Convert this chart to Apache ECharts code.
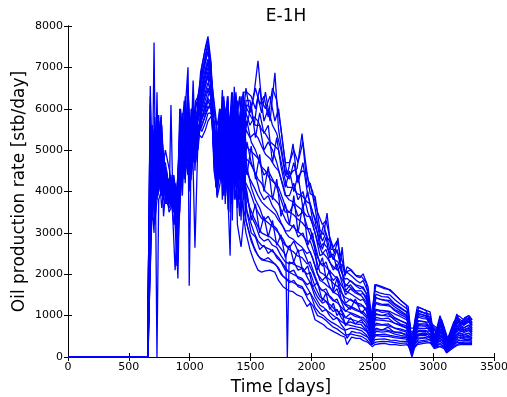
<!DOCTYPE html>
<html><head><meta charset="utf-8">
<script src="https://cdn.jsdelivr.net/npm/echarts@6/dist/echarts.min.js"></script>
<style>html,body{margin:0;padding:0;background:#fff}#c{width:507px;height:397px}</style>
</head><body><div id="c"></div>
<script>
const days = [0,655,664,676,692,707,720,731,745,765,785,810,830,846,862,880,903,918,940,963,986,996,1012,1028,1043,1068,1100,1130,1150,1172,1200,1225,1250,1268,1292,1315,1332,1350,1366,1392,1422,1442,1462,1495,1530,1561,1590,1622,1660,1700,1730,1767,1790,1802,1816,1849,1882,1923,1964,1990,2030,2070,2100,2128,2160,2190,2218,2240,2252,2275,2292,2330,2370,2400,2424,2465,2500,2520,2560,2600,2645,2690,2730,2795,2826,2850,2870,2920,2975,3010,3056,3090,3110,3155,3195,3225,3260,3295,3320];

const runA = [0,0,3000,2950,4400,4100,4700,6400,4200,5800,4300,4100,3700,4000,4200,3900,3600,5000,4400,5800,4900,4300,5200,6680,5400,5900,5760,6050,6260,6150,5200,3900,5100,6450,4500,5600,4800,6000,4700,5400,4100,3400,3000,2600,2300,2100,2050,2080,2100,2050,1850,1700,1650,1620,1600,1580,1500,1450,1220,1300,900,830,780,700,650,600,560,520,500,480,300,480,450,450,400,350,250,300,320,330,300,300,280,300,0,250,300,330,350,200,250,200,100,200,280,300,300,300,300];
const runB = [0,0,2950,6550,3900,7600,3900,4300,5850,4600,4900,3900,4300,4400,3600,4200,3800,3900,5600,4500,5800,4700,4500,5500,6000,5200,6380,6770,7000,6750,4500,4000,4500,5600,6000,4200,5400,4500,6530,5000,5700,4600,3300,2950,2650,2450,2350,2330,2300,2250,2150,1950,1900,1880,1850,1800,1750,1700,1500,1550,1200,1050,1000,920,850,800,750,700,680,640,450,620,590,580,540,470,300,420,430,440,410,400,380,380,50,310,380,400,420,220,320,250,120,240,350,350,360,360,350];
const runC = [0,0,0,4200,5600,3600,4200,5000,4000,4400,3800,4500,4000,3700,4000,3500,2300,5600,4600,5400,4600,4100,5700,4900,5200,5600,5450,5680,5890,5900,5700,5000,5800,4200,4900,6300,4300,5500,4100,6200,4600,5100,3600,3300,3000,2800,2700,2650,2600,2500,2400,2250,2150,2100,2050,2000,1950,1900,1750,1800,1450,1250,1200,1120,1050,980,930,870,850,800,780,760,730,710,680,590,350,540,540,550,520,500,480,460,100,370,460,470,490,240,390,300,140,280,420,400,420,430,400];
const runD = [0,0,3050,3100,4100,4900,3700,0,3800,4000,4500,3700,4200,3900,4400,3700,4100,4500,5900,4800,5500,5000,4800,6000,4800,6300,6690,7140,7380,7000,4800,4100,4800,6100,3900,5000,5800,4100,6100,4500,6300,5600,3900,3600,3350,3150,3000,2950,2900,2800,2700,2550,2450,0,2300,2250,2200,2150,2000,2050,1700,1450,1400,1320,1250,1150,1100,1040,1020,960,940,910,870,840,820,710,400,660,650,660,630,600,580,540,130,430,540,540,560,260,460,350,160,320,490,450,480,500,450];
const runE = [0,0,0,5600,3300,3800,5200,4100,5400,5000,3400,4300,3900,4200,3300,2100,3500,6000,4100,6300,5200,4500,6000,4700,5700,5000,6070,6410,6630,6450,5100,3850,4200,5000,5700,3800,2450,5900,4400,5800,3900,4200,4200,4000,3700,3500,3350,3300,3200,3100,3000,2850,2700,2650,2600,2550,2450,2400,2250,2300,1950,1650,1600,1520,1450,1350,1300,1220,1200,1120,1100,1060,1010,970,960,830,450,780,770,770,740,700,680,620,160,490,620,610,630,280,530,400,180,360,560,500,540,570,500];
const runF = [0,0,1500,4800,5200,4300,3500,5800,4500,4200,4700,4000,3500,3600,4100,3300,4000,3700,5200,4300,6000,4200,4300,5800,4500,6100,7000,7500,7750,7200,4600,4300,5500,3800,5200,6000,4600,6400,5200,3600,5300,6400,4500,4300,4100,3900,3750,3650,3550,3450,3300,3150,3000,2950,2900,2850,2750,2650,2500,2550,2200,1850,1800,1720,1650,1550,1500,1400,1380,1280,1260,1210,1150,1100,1100,950,500,900,890,880,860,810,780,700,180,550,700,690,700,300,600,450,200,400,630,550,600,640,550];
const runG = [0,0,0,3600,4700,5500,4400,3900,5100,5850,4100,4400,4100,4300,3800,4100,3700,5300,3900,6000,7000,4800,5400,5100,5900,5400,5300,5500,5700,5800,5900,5600,6000,5300,4100,4700,5600,3300,5800,4200,6000,3800,4800,4700,4500,4300,4200,4000,3900,3800,3700,3450,3300,3250,3200,3150,3050,2950,2800,2800,2450,2050,2000,1920,1850,1750,1700,1580,1560,1440,1420,1360,1290,1230,1240,1070,550,1030,1010,1000,980,920,880,790,200,610,790,770,770,320,670,500,220,440,700,600,660,710,600];
const runH = [0,0,3000,6100,3600,3000,4800,4600,4300,4700,3900,4200,3800,4100,4300,3600,1900,4200,5400,5000,4700,4400,5000,6300,5000,5800,6540,6950,7190,6900,5300,4800,4400,6300,3700,5400,4000,5700,3800,5900,4400,6100,5100,5000,4900,4800,4600,4500,4300,4200,4100,3800,3600,3550,3500,3450,3350,3250,3100,3100,2700,2250,2250,2150,2050,1950,1900,1760,1740,1600,1580,1510,1430,1370,1390,1190,600,1160,1130,1120,1100,1030,980,880,220,670,880,850,840,340,740,550,240,480,770,650,720,780,650];
const runI = [0,0,0,5200,4900,4500,3800,5300,4800,3900,4600,3800,4300,3800,3500,4000,3900,5800,4800,4700,5600,4000,5800,4600,2640,5300,5920,6230,6450,6300,4900,4200,5300,4600,5500,3560,5000,4300,6300,4800,5800,4800,5500,5300,5400,5300,5100,4900,4800,4600,4500,4150,3900,3850,3800,3750,3650,3550,3400,3400,3000,2450,2500,2400,2250,2150,2100,1940,1920,1760,1740,1660,1570,1510,1540,1310,650,1300,1260,1250,1230,1140,1080,970,240,730,970,930,910,370,800,600,260,520,840,700,780,850,700];
const runJ = [0,0,600,3900,5400,4000,4600,4400,5700,5200,4200,4450,3600,6090,3700,3800,4050,4800,5000,5600,4500,4600,4400,5300,5600,6000,6850,7320,7560,7100,5000,3950,4900,5800,4300,6200,3500,5200,4900,6000,3300,5300,5900,5600,5800,5700,5500,5400,5200,5100,5000,4500,4200,4100,4100,4100,3950,3900,3750,3700,3300,2650,2750,2650,2450,2350,2300,2100,2080,1880,1900,1810,1710,1650,1700,1440,700,1450,1400,1380,1360,1250,1180,1060,260,790,1060,1010,970,400,870,650,280,560,910,750,840,920,760];
const runK = [0,0,0,6300,4000,5100,4100,3800,4600,4500,4800,3900,4000,4350,3900,3400,3550,3500,5700,4200,6200,1720,5100,5600,4700,5500,5610,5860,6070,6000,5500,4400,5700,4400,5800,4400,5200,3800,6000,3200,2660,3300,6200,6200,5600,6300,5900,6400,5700,6870,5500,4800,4400,4500,4350,4500,4550,5400,4100,4200,3600,2850,3200,2900,2760,2500,2880,2200,2250,2000,2050,1960,1850,1790,1850,1570,750,1600,1550,1520,1500,1370,1280,1140,280,850,1140,1080,1030,420,940,680,290,610,980,780,900,960,830];
const runL = [0,0,2900,4500,3500,3700,5000,4900,4100,5500,4000,4300,4150,3900,4250,3200,3850,4600,4300,5200,5300,4900,4600,6100,5300,5700,6230,6590,6820,6600,4700,4600,4600,5900,5000,5200,4400,6200,5500,4400,5100,5900,6500,5900,6400,7160,6200,6000,6300,5700,6000,5100,4600,4400,4600,5150,4300,4500,4450,3950,3880,3070,2950,3480,2600,2600,2500,2300,2660,1950,2180,2100,1950,1920,2010,1700,800,1750,1700,1650,1630,1500,1380,1220,300,900,1220,1150,1090,450,1000,700,300,650,1040,800,950,1000,900];

const days2 = [0,655,668,690,712,740,770,800,835,870,895,925,955,985,1015,1050,1090,1125,1150,1175,1215,1245,1280,1310,1345,1380,1410,1440,1470,1505,1540,1575,1610,1645,1680,1715,1750,1785,1820,1855,1890,1930,1970,2010,2050,2090,2120,2150,2180,2210,2245,2280,2320,2360,2410,2450,2490,2530,2580,2630,2680,2730,2780,2815,2840,2880,2940,2990,3030,3070,3120,3170,3210,3250,3290,3320];

const runM = [0,0,2900,4800,3400,5200,4300,3900,4100,3500,3800,4600,5300,4700,5600,4900,5900,6300,6500,6350,4500,5400,4700,5900,4200,5300,4000,3600,3200,2800,2550,2400,2350,2400,2300,2200,2000,1900,1800,1850,1700,1650,1400,1250,1000,950,880,800,720,680,600,520,560,530,500,430,300,360,380,370,350,330,340,170,200,350,380,330,250,270,160,260,320,330,330,330];
const runN = [0,0,0,3700,5800,4400,5300,4500,3700,4100,2600,5300,4500,6200,4700,5700,5500,5800,6000,6100,5200,4600,6000,4300,5700,4100,5600,4500,3900,3400,3200,2900,2800,2850,2700,2650,2450,2300,2250,2300,2100,2150,1900,1700,1450,1300,1350,1200,1100,1150,950,800,850,800,780,650,400,620,600,620,560,520,500,260,300,520,520,420,330,420,220,380,480,450,470,430];
const runO = [0,0,3100,5300,4200,3900,4800,4200,4300,3200,3600,3900,6000,5000,5300,6100,6300,6800,7100,6700,4100,5800,3900,5200,6100,4700,3400,5700,4600,4100,3800,3600,3300,3400,3200,3100,2850,2700,2650,2800,2550,2600,2300,2050,1750,1600,1650,1450,1350,1400,1150,950,1050,980,940,820,500,820,780,800,700,650,600,330,380,650,640,500,400,520,260,470,580,540,580,520];
const runP = [0,0,0,4500,3700,5600,4100,4600,3900,4200,4000,5700,4300,6600,4500,5300,6600,7100,7400,6900,5600,4300,5200,6300,3700,6000,5100,4100,5200,4700,4400,4000,3800,3900,3650,3500,3250,3050,3050,3200,2900,3000,2650,2400,2000,1850,1950,1700,1550,1650,1350,1100,1200,1130,1080,960,560,960,920,940,820,760,700,380,430,760,740,560,450,600,300,540,660,620,660,590];
const runQ = [0,0,3000,3400,5000,4700,3900,4300,4200,3700,3100,4300,5700,5300,5800,4700,5700,6000,6300,6500,4800,6000,4500,4000,5400,5600,6300,5000,5700,5200,5000,4700,4400,4500,4300,4100,3800,3500,3500,3700,3400,3500,3100,2800,2400,2200,2300,2000,1850,1950,1600,1300,1400,1320,1270,1120,650,1130,1080,1100,960,880,820,440,500,880,850,630,520,690,340,620,760,700,760,680];
const runR = [0,0,0,5600,3200,4100,5600,3800,3600,4000,3900,6000,4900,5800,4400,5900,6000,6500,6800,6200,5300,5000,6200,5500,4500,6300,4600,6200,6000,5800,5600,5600,5000,5200,5000,4700,4300,3900,3900,4200,3800,4000,3500,3200,2800,2500,2600,2300,2100,2250,1850,1500,1650,1550,1480,1330,760,1320,1270,1280,1130,1030,950,520,580,1000,960,700,580,770,380,700,850,780,850,760];
const runS = [0,0,2800,4200,4600,5300,4600,4700,4000,4300,3500,5100,6200,4800,6000,5500,6900,7400,7650,7000,4300,5600,6300,4800,6400,5000,5800,6400,6400,6300,6000,6500,5700,6000,5600,5400,5000,4400,4300,4700,4200,4700,3900,3500,3200,2800,3000,2600,2350,2600,2100,1700,1850,1750,1700,1550,880,1520,1460,1450,1300,1200,1100,600,640,1100,1050,760,640,840,420,780,930,840,930,830];
const runT = [0,0,0,3900,5400,4500,5100,4000,3800,3900,4100,4800,5000,6000,5100,6200,6400,6900,7200,6800,5800,4700,5600,6200,5000,5900,6200,5400,6100,6000,6500,6100,6300,5800,6500,6200,5500,4700,4700,5000,4700,5200,4300,4000,3500,3200,3300,2900,2650,2800,2400,2050,2100,1980,1950,1800,1000,1750,1700,1640,1520,1380,1250,700,700,1200,1130,800,700,900,450,850,1000,900,1000,900];
const runU = [0,0,0,4300,4900,4000,4400,5000,4500,3600,3300,5500,4700,5400,4900,5100,5600,6100,6200,6000,4800,5200,4300,5700,4900,3800,5300,4300,4000,3300,3700,3000,3400,2900,3300,2700,2950,2400,2700,2300,2600,2050,2200,1700,1800,1350,1550,1150,1300,1000,1150,750,950,800,900,700,420,700,650,720,600,600,520,280,320,560,580,450,360,480,240,420,530,500,520,470];
const runV = [0,0,2950,5000,4400,4800,3600,4400,3800,4400,3700,4500,5500,5700,5400,5600,6200,6600,6900,6600,5000,4400,5800,4600,5900,4400,5700,5300,4400,5100,4300,4900,4000,4600,3800,4300,3400,3700,3200,3900,3000,3700,2700,3000,2100,2400,1900,2100,1600,1900,1400,1250,1150,1400,1050,1200,600,1050,1000,1050,900,800,760,400,460,800,800,600,480,640,320,580,700,660,700,620];
const runW = [0,0,0,4600,3500,5000,5400,4100,4100,3800,4000,5400,4400,6400,5000,6000,6700,7200,7500,7100,4700,5500,4800,6000,5300,6400,4900,6000,5600,6100,5300,5900,5400,5600,4700,5300,4600,4100,4500,4000,4400,3600,4000,3300,3000,2600,2900,2400,2500,2100,2200,1600,1750,1600,1600,1450,820,1430,1380,1350,1220,1120,1020,560,600,1050,1000,720,600,800,400,740,880,800,880,790];
const runX = [0,0,0,3500,4500,4900,4000,3700,4000,3900,2200,4000,5000,4400,5000,5400,5700,5900,6200,6050,4200,5000,5500,3900,5200,4800,3800,4700,3500,3000,2900,2600,2700,2500,2600,2400,2300,2100,2050,2100,1900,1850,1650,1450,1250,1100,1150,1000,900,950,780,650,700,680,640,540,350,520,500,500,470,450,430,220,250,440,460,380,290,350,190,320,400,390,400,380];

const runsOnGrid1 = [runA,runB,runC,runD,runE,runF,runG,runH,runI,runJ,runK,runL];
const runsOnGrid2 = [runM,runN,runO,runP,runQ,runR,runS,runT,runU,runV,runW,runX];
const xTicks = [0,500,1000,1500,2000,2500,3000,3500];
const yTicks = [0,1000,2000,3000,4000,5000,6000,7000,8000];
const titleText = 'E-1H';
const xName = 'Time [days]';
const yName = 'Oil production rate [stb/day]';

const FONT = 'DejaVu Sans';
const chart = echarts.init(document.getElementById('c'), null, {renderer:'canvas'});
const axLine = {show:true, lineStyle:{color:'#000', width:1}};
const tick = {show:true, inside:true, length:4, lineStyle:{color:'#000', width:1}};
const xBase = {type:'value', min:xTicks[0], max:xTicks[xTicks.length-1], interval:xTicks[1]-xTicks[0], splitLine:{show:false}, axisLine:axLine, axisTick:tick};
const yBase = {type:'value', min:yTicks[0], max:yTicks[yTicks.length-1], interval:yTicks[1]-yTicks[0], splitLine:{show:false}, axisLine:axLine, axisTick:tick};
const plainFmt = v => String(v);

const mkSeries = (grid, r, k) => ({
  type:'line', name:'run'+k, xAxisIndex:0, yAxisIndex:0,
  showSymbol:false, symbol:'none', smooth:false,
  lineStyle:{color:'#0000ff', width:1.3},
  data: grid.map((d, i) => [d, r[i]])
});

chart.setOption({
  animation:false,
  backgroundColor:'#fff',
  title:{text:titleText, left:281, top:3, textAlign:'center', textStyle:{fontFamily:FONT, fontSize:17, fontWeight:'normal', color:'#000'}},
  grid:{left:68, right:13, top:26, bottom:40, containLabel:false, outerBoundsMode:'none'},
  xAxis:[
    Object.assign({}, xBase, {position:'bottom', name:xName, nameLocation:'middle', nameGap:22, nameMoveOverlap:false,
      nameTextStyle:{fontFamily:FONT, fontSize:17, color:'#000'},
      axisLabel:{fontFamily:FONT, fontSize:11, color:'#000', margin:5, formatter:plainFmt}}),
    Object.assign({}, xBase, {position:'top', axisLabel:{show:false}})
  ],
  yAxis:[
    Object.assign({}, yBase, {position:'left', name:yName, nameLocation:'middle', nameGap:40, nameRotate:90, nameMoveOverlap:false,
      nameTextStyle:{fontFamily:FONT, fontSize:17, color:'#000'},
      axisLabel:{fontFamily:FONT, fontSize:11, color:'#000', margin:5, formatter:plainFmt}}),
    Object.assign({}, yBase, {position:'right', axisLabel:{show:false}})
  ],
  series: runsOnGrid1.map((r, k) => mkSeries(days, r, k))
    .concat(runsOnGrid2.map((r, k) => mkSeries(days2, r, k + 12)))
});
</script></body></html>
